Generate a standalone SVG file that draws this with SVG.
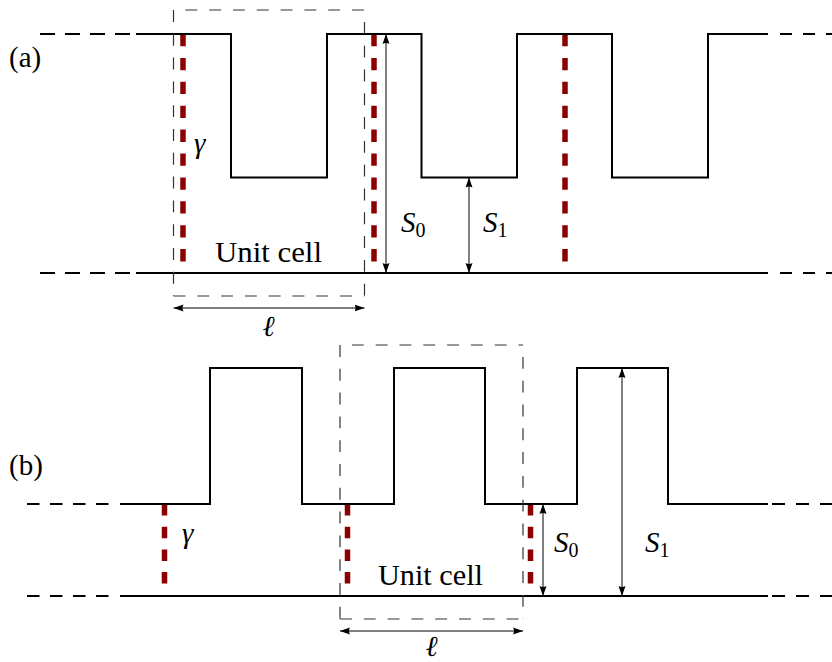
<svg xmlns="http://www.w3.org/2000/svg" width="832" height="662" viewBox="0 0 832 662">
<style>
.wave{fill:none;stroke:#000;stroke-width:2}
.dl{fill:none;stroke:#000;stroke-width:2}
.red{fill:none;stroke:#8b0000;stroke-width:5.5}
.box{fill:none;stroke:#333;stroke-width:1.2;stroke-dasharray:11.9 11.9}
.arr{fill:none;stroke:#000;stroke-width:1;marker-start:url(#ah);marker-end:url(#ah)}
.sub{font-style:normal;font-size:20px}
text{font-family:'Liberation Serif','Times New Roman','DejaVu Serif',Times,serif}
</style>
<defs>
<marker id="ah" markerUnits="userSpaceOnUse" markerWidth="11" markerHeight="8" refX="10" refY="4" orient="auto-start-reverse" viewBox="0 0 11 8">
<path d="M0,0.5 L10,4 L0,7.5 Q2,4 0,0.5 Z" fill="#000"/>
</marker>
</defs>
<rect width="832" height="662" fill="#fff"/>

<g id="panel-a">
  <g id="a-gamma-lines">
    <path class="red" d="M183,34 V261.5 M374,34 V261.5 M565,34 V261.5" style="stroke-dasharray:12.3 11.6"/>
  </g>
  <g id="a-surface">
    <path class="wave" d="M136,34 H231 V177.5 H327 V34 H421.5 V177.5 H517 V34 H612 V177.5 H708 V34 H768"/>
    <path class="wave" d="M136,273 H768"/>
    <path class="dl" d="M40,34 H130 M40,273 H130" style="stroke-dasharray:15 10"/>
    <path class="dl" d="M780,34 H832 M780,273 H832" style="stroke-dasharray:12 11"/>
  </g>
  <g id="a-unit-cell">
    <path class="box" d="M173.5,10 V296"/>
    <path class="box" d="M173.5,10 H364.5" style="stroke-dashoffset:11.9"/>
    <path class="box" d="M364.5,10 V296" style="stroke-dashoffset:11.9"/>
    <path class="box" d="M173.5,296 H364.5"/>
    <text font-size="29" x="215" y="261.5" textLength="107" lengthAdjust="spacingAndGlyphs">Unit cell</text>
  </g>
  <g id="a-connectors">
    <path class="arr" d="M173.5,308 H364.5"/>
    <path class="arr" d="M386,34 V273"/>
    <path class="arr" d="M469,177.5 V273"/>
  </g>
  <g id="a-labels" font-size="29">
    <text x="9" y="67">(a)</text>
    <text font-style="italic" x="194" y="153">γ</text>
    <text font-style="italic" x="268.5" y="336" text-anchor="middle">ℓ</text>
    <text font-style="italic" x="401" y="232">S<tspan class="sub" dy="5">0</tspan></text>
    <text font-style="italic" x="483" y="232">S<tspan class="sub" dy="5">1</tspan></text>
  </g>
</g>

<g id="panel-b">
  <g id="b-gamma-lines">
    <path class="red" d="M164.5,504 V585 M347.5,504 V585 M530.5,504 V585" style="stroke-dasharray:11.5 11.2"/>
  </g>
  <g id="b-surface">
    <path class="wave" d="M120,504 H210 V368 H302 V504 H394 V368 H485 V504 H577 V368 H668 V504 H768"/>
    <path class="wave" d="M120,596 H768"/>
    <path class="dl" d="M27,504 H108.5 M27,596 H108.5" style="stroke-dasharray:12.5 10.5"/>
    <path class="dl" d="M772,504 H832 M772,596 H832" style="stroke-dasharray:13 11"/>
  </g>
  <g id="b-unit-cell">
    <path class="box" d="M340,345 V619"/>
    <path class="box" d="M340,345 H523" style="stroke-dashoffset:11.9"/>
    <path class="box" d="M523,345 V619" style="stroke-dashoffset:11.9"/>
    <path class="box" d="M340,619 H523"/>
    <text font-size="29" x="378" y="585" textLength="105" lengthAdjust="spacingAndGlyphs">Unit cell</text>
  </g>
  <g id="b-connectors">
    <path class="arr" d="M340,631 H523"/>
    <path class="arr" d="M543,504 V596"/>
    <path class="arr" d="M622,368 V596"/>
  </g>
  <g id="b-labels" font-size="29">
    <text x="9" y="475">(b)</text>
    <text font-style="italic" x="182" y="543">γ</text>
    <text font-style="italic" x="431.5" y="656" text-anchor="middle">ℓ</text>
    <text font-style="italic" x="554" y="552">S<tspan class="sub" dy="5">0</tspan></text>
    <text font-style="italic" x="645" y="552">S<tspan class="sub" dy="5">1</tspan></text>
  </g>
</g>
</svg>
